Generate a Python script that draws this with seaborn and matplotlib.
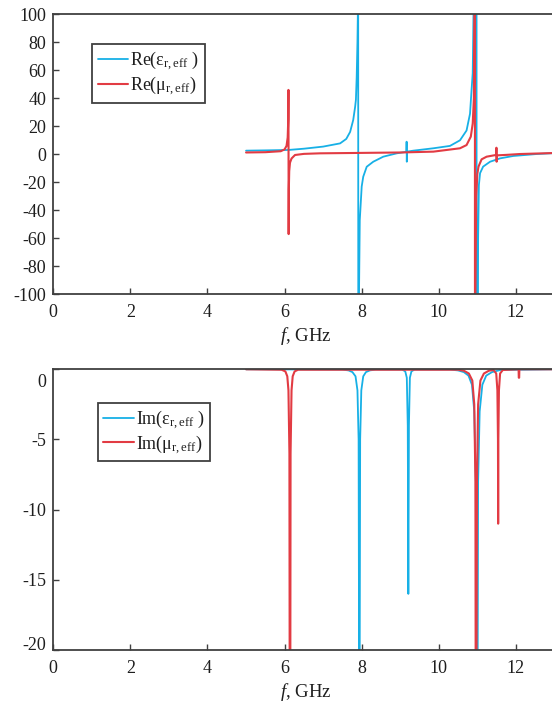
import numpy as np
import pandas as pd
import matplotlib
matplotlib.use('Agg')
import matplotlib.pyplot as plt
import matplotlib.transforms as mtrans
import seaborn as sns

# ---------------- data ----------------
f_re_eps = [5.0, 5.5, 6.1, 6.5, 7.0, 7.44, 7.6, 7.7, 7.78, 7.83, 7.85, 7.87, 7.89,
            7.9, 7.905, 7.915, 7.93, 7.95, 8.0, 8.04, 8.13, 8.3, 8.56, 8.91, 9.1, 9.16,
            9.165, 9.17, 9.175, 9.34, 9.86, 10.29, 10.55, 10.72, 10.81, 10.85, 10.88,
            10.9, 10.93, 10.97, 10.99, 11.0, 11.02, 11.04, 11.07, 11.15, 11.33, 11.59,
            11.93, 12.54, 13.1]
re_eps = [2.6, 2.8, 3.1, 4.0, 5.5, 7.8, 11, 16, 24.5, 34, 39, 55, 80,
          100, 400, -400, -100, -47, -23, -16, -8.9, -5.3, -1.7, 0.7, 1.5, 1.8,
          9, -5.3, 1.9, 2.6, 4.3, 6.0, 10, 17, 29, 46, 58,
          100, 200, 2000, -2000, -300, -60, -22, -13.5, -8.8, -5.3, -2.9,
          -1.2, 0.2, 1.0]

f_re_mu = [5.0, 5.5, 5.9, 6.0, 6.05, 6.08, 6.095, 6.1, 6.105, 6.11, 6.12, 6.14, 6.18,
           6.27, 6.5, 6.92, 8.0, 9.0, 9.86, 10.55, 10.72, 10.83, 10.88, 10.91, 10.93,
           10.935, 10.94, 10.95, 10.97, 11.0, 11.03, 11.11, 11.24, 11.46, 11.49,
           11.495, 11.5, 11.505, 11.55, 11.76, 12.1, 13.1]
re_mu = [1.3, 1.5, 2.2, 3.5, 6, 12, 25, 46, -57, -25, -12, -6, -3,
         -0.5, 0.3, 0.7, 1.0, 1.3, 1.9, 4.3, 6.6, 12.6, 22, 40, 120,
         500, -500, -100, -30, -14, -8.8, -3.6, -1.7, -0.6, -0.4,
         4.7, -5.3, -0.8, -0.7, -0.4, 0.2, 1.0]

f_im_eps = [5.0, 7.5, 7.66, 7.76, 7.84, 7.89, 7.92, 7.935, 7.945, 7.96, 7.99, 8.04, 8.11,
            8.21, 8.36, 9.05, 9.13, 9.17, 9.195, 9.21, 9.225, 9.25, 9.29, 9.37, 10.3,
            10.5, 10.65, 10.77, 10.86, 10.92, 10.96, 10.98, 11.0, 11.02, 11.06, 11.13,
            11.23, 11.38, 11.6, 13.1]
im_eps = [0, -0.02, -0.08, -0.2, -0.5, -1.5, -5, -25, -25, -5, -1.5, -0.5, -0.2,
          -0.08, -0.02, -0.02, -0.15, -0.6, -4, -16, -4, -0.6, -0.15, -0.02, -0.02,
          -0.08, -0.2, -0.45, -1.1, -3, -8, -30, -30, -8, -3, -1.1,
          -0.45, -0.2, -0.05, 0]

f_im_mu = [5.0, 5.92, 6.02, 6.07, 6.1, 6.125, 6.135, 6.145, 6.155, 6.18, 6.21, 6.26, 6.35,
           10.5, 10.65, 10.78, 10.87, 10.92, 10.95, 10.96, 10.97, 10.99, 11.02, 11.08,
           11.17, 11.3, 11.42, 11.49, 11.52, 11.535, 11.54, 11.545, 11.56, 11.59, 11.66,
           12.07, 12.075, 12.085, 12.09, 13.1]
im_mu = [0, -0.03, -0.15, -0.5, -1.5, -6, -30, -30, -6, -1.5, -0.5, -0.15, -0.03,
         -0.03, -0.1, -0.3, -0.8, -2.5, -8, -30, -30, -8, -2.5, -0.8,
         -0.3, -0.1, -0.05, -0.3, -1.5, -5, -11, -5, -1.5, -0.3, -0.05,
         0, -0.6, -0.6, 0, 0]

labels_top = ['Re(ε$_{\\rm r,eff}$ )', 'Re(μ$_{\\rm r,eff}$)']
labels_bot = ['Im(ε$_{\\rm r,eff}$ )', 'Im(μ$_{\\rm r,eff}$)']
x_ticks = [0, 2, 4, 6, 8, 10, 12]
y_ticks_top = [-100, -80, -60, -40, -20, 0, 20, 40, 60, 80, 100]
y_ticks_bot = [-20, -15, -10, -5, 0]

BLUE = '#17b0e6'
RED = '#e23b43'
SPINE = '#404040'

# ---------------- style ----------------
sns.set_theme(style='white')
plt.rcParams['font.family'] = ['Liberation Serif', 'DejaVu Serif']
plt.rcParams['mathtext.fontset'] = 'custom'
plt.rcParams['mathtext.rm'] = 'Liberation Serif'
plt.rcParams['mathtext.it'] = 'Liberation Serif:italic'
plt.rcParams['axes.unicode_minus'] = False

W, H = 552, 705
fig = plt.figure(figsize=(W / 100, H / 100), dpi=100)
fig.patch.set_facecolor('white')
ax1 = fig.add_axes([53.3 / W, 1 - 294.3 / H, (558.3 - 53.3) / W, 280 / H])
ax2 = fig.add_axes([53.3 / W, 1 - 650 / H, (558.3 - 53.3) / W, 280.7 / H])

def draw(ax, f1, v1, f2, v2, labels):
    sns.lineplot(x=f1, y=v1, ax=ax, color=BLUE, lw=1.3, sort=False,
                 estimator=None, label=labels[0])
    sns.lineplot(x=f2, y=v2, ax=ax, color=RED, lw=1.5, sort=False,
                 estimator=None, label=labels[1])

draw(ax1, f_re_eps, re_eps, f_re_mu, re_mu, labels_top)
draw(ax2, f_im_eps, im_eps, f_im_mu, im_mu, labels_bot)

ax1.set_ylim(-100, 100)
ax1.set_yticks(y_ticks_top)
ax2.set_ylim(-20, 0)
ax2.set_yticks(y_ticks_bot)

for ax, (lx, ly) in [(ax1, (92.3, 44)), (ax2, (98.0, 402.7))]:
    ax.set_xlim(0, 13.1)
    ax.set_xticks(x_ticks)
    ax.set_facecolor('white')
    for s in ax.spines.values():
        s.set_color(SPINE)
        s.set_linewidth(1.3)
        s.set_visible(True)
    ax.tick_params(direction='in', length=4, width=1, color=SPINE,
                   labelcolor='#1e1e1e', labelsize=13, pad=5,
                   bottom=True, left=True, top=False, right=False)
    ax.tick_params(axis='x', pad=7)
    ax.set_xlabel('$f$, GHz', fontsize=13.5, color='#1e1e1e', labelpad=3)
    ax.set_ylabel('')
    ax.grid(False)
    leg = ax.legend(loc='upper left', bbox_to_anchor=(lx / W, 1 - ly / H),
                    bbox_transform=fig.transFigure, borderaxespad=0, frameon=True,
                    fancybox=False, edgecolor=SPINE, framealpha=1, fontsize=13,
                    handlelength=1.7, handletextpad=0.1, labelspacing=0.1,
                    borderpad=0.3)
    leg.get_frame().set_linewidth(1.3)
    for t in leg.get_texts():
        t.set_color('#1e1e1e')

fig.canvas.draw()
for tick in ax2.yaxis.get_major_ticks():
    loc = tick.get_loc()
    if loc == 0:
        off = mtrans.ScaledTranslation(0, -11 / 100, fig.dpi_scale_trans)
        tick.label1.set_transform(tick.label1.get_transform() + off)
    elif loc == -20:
        off = mtrans.ScaledTranslation(0, 6.5 / 100, fig.dpi_scale_trans)
        tick.label1.set_transform(tick.label1.get_transform() + off)

fig.savefig('out.png', dpi=100, facecolor='white')
